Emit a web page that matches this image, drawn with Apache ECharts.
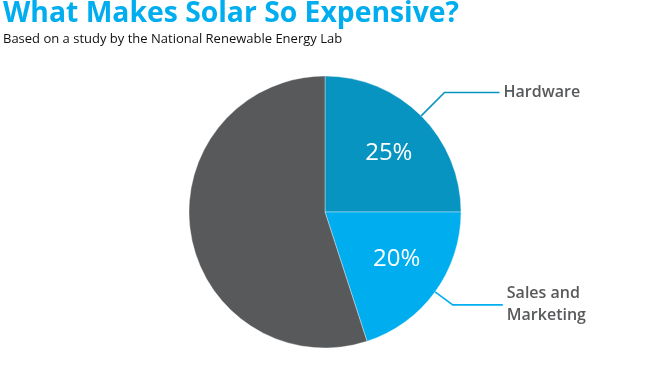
<!DOCTYPE html>
<html><head><meta charset="utf-8">
<script src="https://cdn.jsdelivr.net/npm/echarts@6/dist/echarts.min.js"></script>
<style>html,body{margin:0;padding:0;background:#fff}#c{width:650px;height:375px}</style>
</head><body><div id="c"></div>
<script>
var categories = ['Hardware', 'Sales and\nMarketing', 'Other'];
var values = [25, 20, 55];
var colors = ['#0894c1', '#00aeef', '#58595b'];
var showOuter = [true, true, false];
var showInner = [true, true, false];

var chart = echarts.init(document.getElementById('c'));
var center = [325, 212];
var R = 136;
var lineLen1 = [33, 22, 0];
var lineLen2 = [55, 50, 0];
var innerOffset = [[3, 2], [2, -3.5], [0, 0]];
var outerPad = [[1, 0, 0, 0], [12, 0, 0, 0], 0];

var mainData = categories.map(function (c, i) {
  return {
    name: c, value: values[i],
    itemStyle: { color: colors[i] },
    label: { show: showOuter[i], padding: outerPad[i] },
    labelLine: { show: showOuter[i], length: lineLen1[i], length2: lineLen2[i], lineStyle: { color: colors[i] } }
  };
});
var innerData = categories.map(function (c, i) {
  return { name: c, value: values[i], label: { show: showInner[i], offset: innerOffset[i] } };
});

chart.setOption({
  animation: false,
  title: {
    text: 'What Makes Solar So Expensive?',
    subtext: 'Based on a study by the National Renewable Energy Lab',
    left: -2, top: -5, itemGap: 5,
    textStyle: { color: '#00aeef', fontFamily: 'Open Sans', fontWeight: 700, fontSize: 28.3 },
    subtextStyle: { color: '#111', fontFamily: 'Open Sans', fontSize: 13 }
  },
  series: [{
    type: 'pie', center: center, radius: [0, R], startAngle: 90, clockwise: true,
    silent: true,
    itemStyle: { borderColor: 'rgba(255,255,255,0.45)', borderWidth: 0.8 },
    label: {
      position: 'outside', color: '#58595b', fontFamily: 'Open Sans', fontWeight: 600,
      fontSize: 16, lineHeight: 22, align: 'left', distanceToLabelLine: 4
    },
    labelLine: { smooth: false, lineStyle: { width: 1.6 } },
    data: mainData
  }, {
    type: 'pie', center: center, radius: [30, R], startAngle: 90, clockwise: true,
    silent: true,
    itemStyle: { color: 'rgba(0,0,0,0)' },
    label: {
      position: 'inside', color: '#fff', fontFamily: 'Open Sans', fontSize: 24,
      formatter: function (p) { return p.value + '%'; }
    },
    labelLine: { show: false },
    data: innerData
  }]
});
</script></body></html>
